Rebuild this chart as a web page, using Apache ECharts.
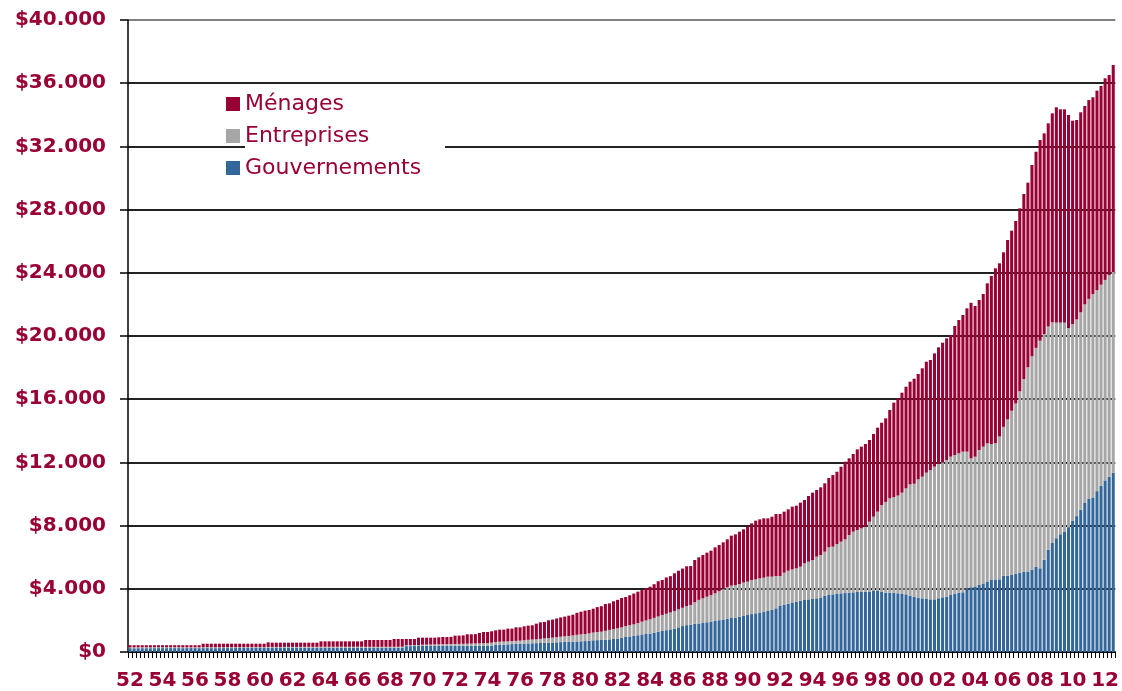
<!DOCTYPE html>
<html>
<head>
<meta charset="utf-8">
<script src="https://cdn.jsdelivr.net/npm/echarts@6/dist/echarts.min.js"></script>
<style>
html,body{margin:0;padding:0;background:#fff;}
#chart{width:1122px;height:691px;}
</style>
</head>
<body>
<div id="chart"></div>
<script>
// Quarterly series, 1952 T1 .. 2012 T3 (billions of dollars)
var firstYear = 1952;
var quarterCount = 243;
var seriesNames = ['Ménages', 'Entreprises', 'Gouvernements'];
var yTicks = [0, 4000, 8000, 12000, 16000, 20000, 24000, 28000, 32000, 36000, 40000];

var gouvernements = [
240,238,240,242, 242,240,244,246, 246,244,248,248, 246,244,246,248,
246,244,246,248, 246,244,246,248, 248,246,250,254, 254,252,256,258,
256,254,258,258, 258,256,260,262, 262,260,262,264, 264,262,264,266,
266,264,266,268, 268,264,266,268, 268,264,266,268, 266,262,266,270,
270,268,272,276, 370,372,376,382, 384,386,390,395, 382,382,384,386,
386,388,388,390, 388,386,388,390, 392,395,445,450, 460,480,500,510,
520,530,545,551, 560,570,585,593, 600,610,625,635, 640,655,665,677,
690,710,740,750, 760,780,800,825, 850,900,951,980, 1015,1060,1110,1140,
1162,1220,1280,1331, 1380,1430,1479,1560, 1640,1700,1732,1780, 1800,1837,1880,1920,
1964,2010,2060,2112, 2150,2173,2217,2280, 2342,2400,2447,2500, 2560,2595,2680,2764,
2911,2975,3050,3100, 3186,3250,3291,3333, 3380,3397,3450,3550, 3608,3650,3700,3713,
3730,3756,3776,3800, 3819,3819,3830,3861, 3861,3800,3756,3756, 3756,3713,3700,3650,
3560,3502,3439,3397, 3354,3333,3333,3400, 3460,3500,3608,3680, 3756,3780,4030,4100,
4150,4250,4335,4462, 4588,4588,4600,4836, 4836,4873,4962,5020, 5089,5089,5215,5386,
5300,5835,6462,6900, 7200,7450,7600,7900, 8320,8600,9000,9430, 9720,9780,10180,10520,
10860,11090,11340
];

var entreprises = [
60,60,60,60, 60,60,60,60, 60,60,60,60, 60,60,60,60,
60,60,62,62, 62,62,62,62, 62,62,62,62, 62,62,62,62,
62,62,62,62, 62,62,62,62, 62,62,62,62, 62,62,62,64,
64,64,64,64, 64,64,64,64, 64,64,60,60, 60,60,60,60,
60,60,60,60, 60,60,60,60, 80,80,80,80, 105,113,116,119,
124,127,132,137, 142,154,162,170, 180,195,190,200, 200,197,190,195,
200,215,225,239, 244,260,275,292, 310,330,345,360, 375,395,425,438,
451,470,490,510, 529,560,600,625, 650,660,689,720, 738,770,810,860,
908,940,970,1013, 1040,1070,1118,1140, 1160,1200,1245,1370, 1500,1561,1620,1680,
1750,1840,1920,1982, 2050,2067,2088,2120, 2109,2158,2153,2162, 2144,2173,2088,2046,
1899,2045,2096,2131, 2109,2150,2321,2384, 2443,2637,2689,2800, 3016,3016,3135,3269,
3401,3649,3839,3921, 4007,4113,4418,4704, 5021,5504,5744,5970, 6044,6187,6384,6708,
7052,7148,7489,7700, 7996,8186,8397,8500, 8545,8652,8755,8788, 8818,8900,8650,8157,
8213,8535,8660,8744, 8562,8632,9040,9414, 9884,10397,10768,11480, 12191,12931,13505,13864,
14400,14285,14138,13970, 13648,13398,13248,12600, 12430,12450,12500,12570, 12630,12870,12720,12730,
12690,12760,12710
];

var menages = [
130,132,130,128, 128,130,126,124, 124,126,122,122, 124,126,124,122,
124,126,217,215, 217,219,217,215, 215,217,213,209, 209,211,207,205,
207,209,292,270, 270,272,268,266, 266,268,266,264, 264,266,264,345,
345,347,345,343, 343,347,345,343, 343,347,434,432, 434,438,434,430,
430,495,491,487, 393,391,387,465, 443,441,437,432, 443,454,449,455,
526,521,530,593, 590,590,654,708, 696,720,738,766, 756,802,789,858,
843,882,899,900, 991,1050,1041,1121, 1140,1180,1220,1245, 1285,1310,1390,1435,
1479,1480,1510,1580, 1611,1700,1680,1760, 1800,1860,1840,1890, 1947,1990,2000,2040,
2060,2130,2230,2216, 2300,2300,2383,2440, 2480,2524,2463,2673, 2692,2741,2786,2813,
2910,2922,2961,3037, 3162,3207,3310,3363, 3481,3585,3712,3734, 3756,3692,3797,3924,
3924,3862,3884,3967, 3967,4052,4008,4156, 4261,4219,4283,4325, 4388,4534,4574,4744,
4914,4851,4915,5105, 5169,5232,5169,5232, 5315,5209,5290,5590, 5980,6157,6328,6433,
6495,6647,6666,6858, 7023,6961,7171,7381, 7571,7699,7700,8164, 8438,8649,9071,9843,
9535,9493,9663,10127, 10646,11063,10960,11047, 11356,11397,11548,11580, 11707,11684,12103,12415,
12705,12706,12859,13224, 13626,13499,13499,13487, 12877,12620,12657,12557, 12587,12458,12628,12575,
12760,12669,13102
];

var categories = [];
for (var k = 0; k < quarterCount; k++) {
  var yr = firstYear + Math.floor(k / 4);
  categories.push(String(yr % 100).padStart(2, '0') + ' T' + (k % 4 + 1));
}

var RED = '#990033', GREY = '#A6A6A6', BLUE = '#336699';
var labelColor = '#990033';

var chart = echarts.init(document.getElementById('chart'), null, {renderer: 'canvas'});
chart.setOption({
  animation: false,
  backgroundColor: '#ffffff',
  grid: {left: 128, top: 20, width: 996, height: 632, containLabel: false},
  legend: {
    data: seriesNames,
    orient: 'vertical',
    left: 221,
    top: 88,
    itemWidth: 14,
    itemHeight: 14,
    itemGap: 10,
    icon: 'rect',
    z: 10,
    textStyle: {color: labelColor, fontSize: 22, fontFamily: 'DejaVu Sans'}
  },
  graphic: [{
    type: 'rect', left: 245, top: 88, z: 5,
    shape: {width: 200, height: 94},
    style: {fill: '#ffffff'}
  }],
  xAxis: {
    type: 'category',
    data: categories,
    boundaryGap: true,
    axisLine: {show: true, lineStyle: {color: '#000', width: 1.5}},
    axisTick: {show: true, interval: 0, length: 6, lineStyle: {color: '#000', width: 1}},
    axisLabel: {
      interval: 7,
      margin: 19,
      color: labelColor,
      fontSize: 20,
      fontWeight: 'bold',
      fontFamily: 'DejaVu Sans',
      formatter: function (v) { return v.slice(0, 2); }
    },
    splitLine: {show: false}
  },
  yAxis: {
    type: 'value',
    min: 0,
    max: 40000,
    interval: 4000,
    axisLine: {show: true, lineStyle: {color: '#000', width: 1.5}},
    axisTick: {show: true, length: 8, lineStyle: {color: '#000', width: 1.5}},
    axisLabel: {
      margin: 22,
      color: labelColor,
      fontSize: 20,
      fontWeight: 'bold',
      fontFamily: 'DejaVu Sans',
      formatter: function (v) { return v === 0 ? '$0' : '$' + (v / 1000) + '.000'; }
    },
    splitLine: {show: true, lineStyle: {
      color: ['#222','#222','#222','#222','#222','#222','#222','#222','#222','#222','#808080'],
      width: 2
    }}
  },
  series: [
    {name: 'Gouvernements', type: 'bar', stack: 'dette', data: gouvernements,
     itemStyle: {color: BLUE}, barCategoryGap: '25%'},
    {name: 'Entreprises', type: 'bar', stack: 'dette', data: entreprises,
     itemStyle: {color: GREY}, barCategoryGap: '25%'},
    {name: 'Ménages', type: 'bar', stack: 'dette', data: menages,
     itemStyle: {color: RED}, barCategoryGap: '25%'}
  ]
});
</script>
</body>
</html>
